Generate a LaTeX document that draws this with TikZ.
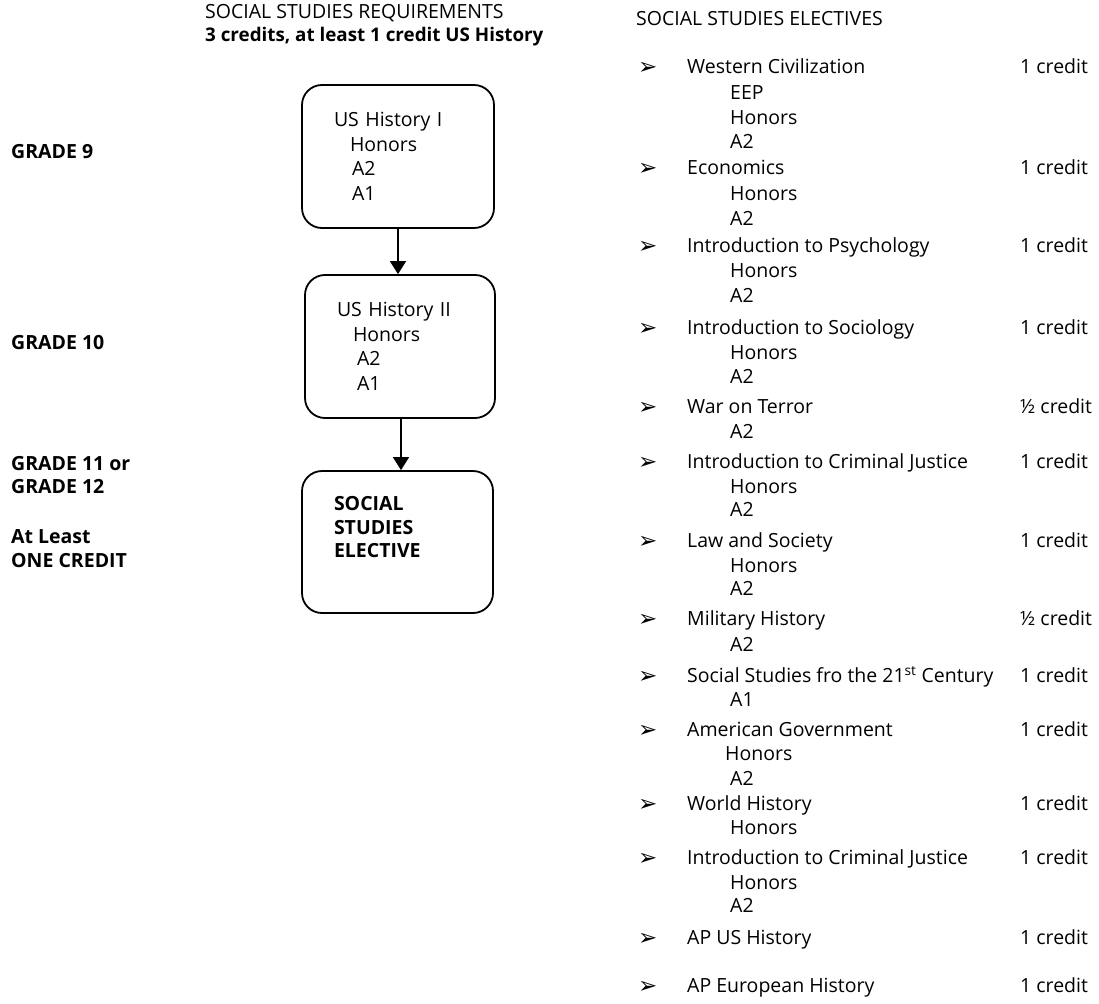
\documentclass[tikz,border=0pt]{standalone}
\usepackage{fontspec}
\setmainfont{Open Sans}
\newfontfamily\symfont{DejaVu Sans}
\usetikzlibrary{arrows.meta}
\begin{document}
\begin{tikzpicture}[x=1pt,y=-1pt,
  txt/.style={anchor=mid west, inner sep=0pt, font=\fontsize{19.5}{24.7}\selectfont},
  bold/.style={txt, font=\fontsize{19.5}{23.5}\selectfont\bfseries, align=left},
  box/.style={draw, line width=1.8pt, rounded corners=20pt, inner xsep=32pt, inner ysep=0pt,
    align=left, font=\fontsize{19.5}{24.5}\selectfont},
  conn/.style={line width=1.6pt, -{Triangle[length=13pt,width=16pt]}},
  bul/.style={anchor=west, inner sep=0pt, yshift=2.5pt, font=\symfont\fontsize{23}{24}\selectfont}
]
\useasboundingbox (0,0) rectangle (1099,1003);

% titles
\node[txt] (title1) at (205,16) {SOCIAL STUDIES REQUIREMENTS};
\node[txt, font=\fontsize{18.8}{24}\selectfont\bfseries] (title2) at (205,39) {3 credits, at least 1 credit US History};
\node[txt] (title3) at (636,23) {SOCIAL STUDIES ELECTIVES};

% grade labels
\node[bold] (g9) at (11,156) {GRADE 9};
\node[bold] (g10) at (11,347) {GRADE 10};
\node[bold, anchor=west] (g11) at (11,475) {GRADE 11 or\\GRADE 12};
\node[bold, anchor=west] (one) at (11,548.5) {At Least\\ONE CREDIT};

% boxes
\node[box, minimum width=192pt, minimum height=143pt, text width=128pt] (b1) at (398,156.5)
  {US History I\\\hspace*{16pt}Honors\\\hspace*{18pt}A2\\\hspace*{18pt}A1\\[-6pt]};
\node[box, minimum width=190pt, minimum height=143pt, text width=126pt] (b2) at (400,346.5)
  {US History II\\\hspace*{16pt}Honors\\\hspace*{20pt}A2\\\hspace*{20pt}A1\\[-6pt]};
\node[box, minimum width=191pt, minimum height=142pt, text width=127pt,
  inner xsep=31pt, font=\fontsize{19.5}{23.5}\selectfont\bfseries] (b3) at (397.5,542)
  {SOCIAL\\STUDIES\\ELECTIVE\\[6pt]\mbox{}\\};

\draw[conn] (b1.south) -- (b1.south |- b2.north);
\draw[conn] ([xshift=1pt]b2.south) -- ([xshift=1pt]b2.south |- b3.north);

% electives list
\foreach \y/\t/\c [count=\i] in {
  71/Western Civilization/1 credit,
  172/Economics/1 credit,
  250/Introduction to Psychology/1 credit,
  332/Introduction to Sociology/1 credit,
  411/War on Terror/½ credit,
  466/Introduction to Criminal Justice/1 credit,
  545/Law and Society/1 credit,
  623/Military History/½ credit,
  680/Social Studies fro the 21\textsuperscript{st} Century/1 credit,
  734/American Government/1 credit,
  808/World History/1 credit,
  862/Introduction to Criminal Justice/1 credit,
  942/AP US History/1 credit,
  990/AP European History/1 credit}{
  \node[bul] (bul\i) at (638,\y) {➢};
  \node[txt] (item\i) at (687,\y) {\t};
  \node[txt] (cr\i) at (1020,\y) {\c};
}
\foreach \y/\t [count=\i] in {
  97/EEP, 122/Honors, 146/A2,
  198/Honors, 223/A2,
  275/Honors, 300/A2,
  357/Honors, 381/A2,
  436/A2,
  491/Honors, 514/A2,
  570/Honors, 593/A2,
  649/A2,
  704/A1,
  783/A2,
  832/Honors,
  887/Honors, 910/A2}{
  \node[txt] (sub\i) at (730,\y) {\t};
}
\node[txt] (subamg) at (725,758) {Honors};
\end{tikzpicture}
\end{document}
